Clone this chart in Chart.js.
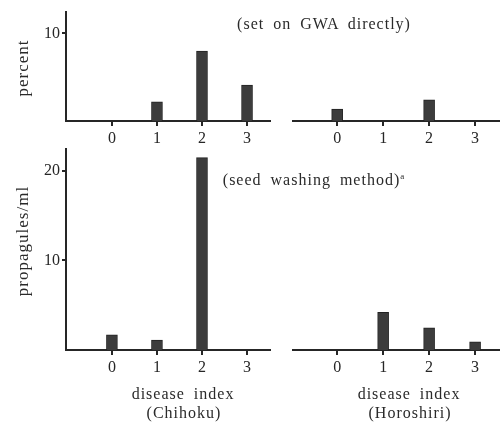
<!DOCTYPE html>
<html>
<head>
<meta charset="utf-8">
<script src="https://cdn.jsdelivr.net/npm/chart.js@4"></script>
<style>
  body { margin: 0; background: #fff; }
  #wrap { position: relative; width: 503px; height: 429px; overflow: hidden; font-family: "Liberation Serif", "DejaVu Serif", serif; color: #2a2a2a; }
  #wrap canvas { position: absolute; }
  .lbl { position: absolute; white-space: nowrap; font-size: 16px; letter-spacing: 1px; word-spacing: 4px; transform: translate(-50%, -50%); }
  .rot { transform: translate(-50%, -50%) rotate(-90deg); font-size: 17px; }
  sup { font-size: 9px; }
</style>
</head>
<body>
<div id="wrap">
  <canvas id="tl" width="280" height="150" style="left:0;top:0"></canvas>
  <canvas id="tr" width="223" height="150" style="left:280px;top:0"></canvas>
  <canvas id="bl" width="280" height="250" style="left:0;top:137px"></canvas>
  <canvas id="br" width="223" height="250" style="left:280px;top:137px"></canvas>

  <div class="lbl" style="left:324px;top:24px">(set on GWA directly)</div>
  <div class="lbl" style="left:314px;top:180px">(seed washing method)<sup>a</sup></div>
  <div class="lbl rot" style="left:23px;top:68px">percent</div>
  <div class="lbl rot" style="left:23px;top:241px">propagules/ml</div>
  <div class="lbl" style="left:183px;top:394px">disease index</div>
  <div class="lbl" style="left:184px;top:413px">(Chihoku)</div>
  <div class="lbl" style="left:409px;top:394px">disease index</div>
  <div class="lbl" style="left:410px;top:413px">(Horoshiri)</div>
</div>
<script>
// disease index categories
const diseaseIndex = [0, 1, 2, 3];

// percent, set on GWA directly
const gwaChihoku = [0, 2.2, 8.0, 4.1];
const gwaHoroshiri = [1.3, 0, 2.3, 0];

// propagules/ml, seed washing method
const washChihoku = [1.7, 1.1, 21.5, 0];
const washHoroshiri = [0, 4.1, 2.4, 0.9];

const percentTicks = [10];
const propaguleTicks = [10, 20];

const ink = "#262626";
const barColor = "#3c3c3c";

function makePanel(id, values, yMax, yTicks, showY, xMin, xMax, pad, xHeight) {
  return new Chart(document.getElementById(id), {
    type: "bar",
    data: {
      datasets: [{
        data: diseaseIndex.map((x, i) => ({ x: x, y: values[i] })),
        backgroundColor: barColor,
        borderColor: "#222",
        borderWidth: 1,
        barThickness: 11,
      }],
    },
    options: {
      responsive: false,
      animation: false,
      layout: { padding: pad },
      plugins: { legend: { display: false }, tooltip: { enabled: false } },
      scales: {
        x: {
          type: "linear",
          offset: false,
          min: xMin,
          max: xMax,
          afterBuildTicks: (axis) => { axis.ticks = diseaseIndex.map((v) => ({ value: v })); },
          afterFit: (axis) => { axis.height = xHeight; },
          ticks: {
            color: ink,
            padding: 3,
            font: { family: "Liberation Serif", size: 16 },
            callback: (v) => String(v),
          },
          grid: { offset: false, drawOnChartArea: false, drawTicks: true, tickLength: 5, color: ink, lineWidth: 2 },
          border: { display: true, color: ink, width: 2 },
        },
        y: {
          display: showY,
          min: 0,
          max: yMax,
          afterBuildTicks: (axis) => { axis.ticks = yTicks.map((v) => ({ value: v })); },
          afterFit: (axis) => { axis.width = showY ? 66 : 0; },
          ticks: {
            color: ink,
            padding: 2,
            font: { family: "Liberation Serif", size: 16 },
          },
          grid: { drawOnChartArea: false, drawTicks: true, tickLength: 4, color: ink, lineWidth: 2 },
          border: { display: true, color: ink, width: 2 },
        },
      },
    },
  });
}

makePanel("tl", gwaChihoku, 12.5, percentTicks, true, -1.02, 3.51, { top: 6, right: 10 }, 29);
makePanel("tr", gwaHoroshiri, 12.5, percentTicks, false, -0.96, 3.52, { top: 6, left: 13, right: 4 }, 29);
makePanel("bl", washChihoku, 22.5, propaguleTicks, true, -1.02, 3.51, { top: 6, right: 10 }, 37);
makePanel("br", washHoroshiri, 22.5, propaguleTicks, false, -0.96, 3.52, { top: 6, left: 13, right: 4 }, 37);
</script>
</body>
</html>
